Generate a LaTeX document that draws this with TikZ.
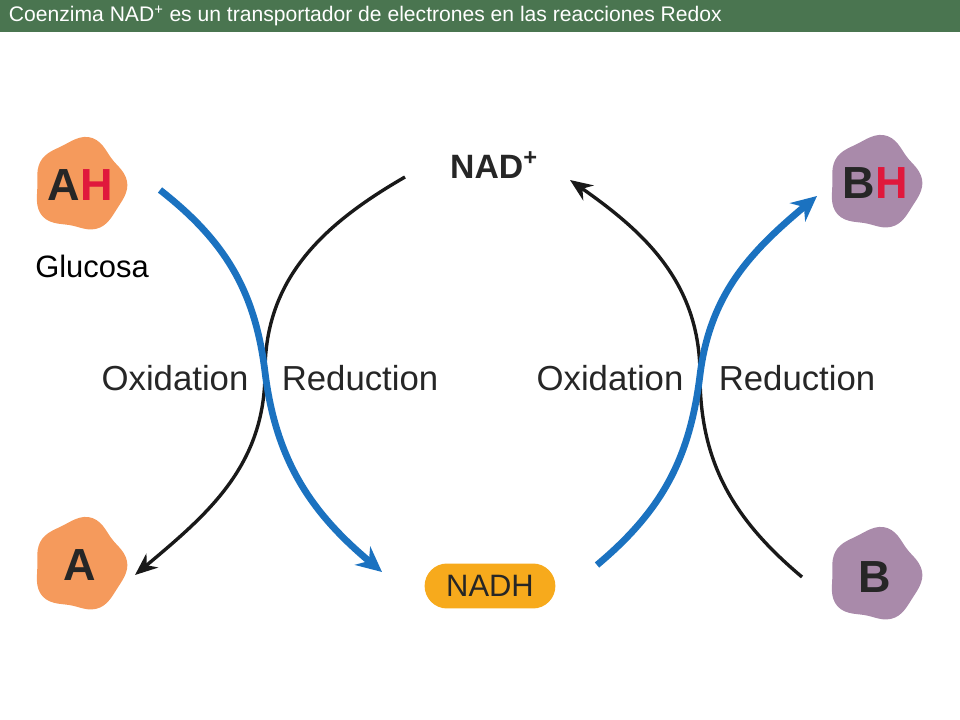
\documentclass[tikz,border=0pt]{standalone}
\usepackage{fontspec}
\setmainfont{Liberation Sans}
\usetikzlibrary{positioning,arrows.meta}
\definecolor{bargreen}{HTML}{4A7550}
\definecolor{orangeblob}{HTML}{F59A5C}
\definecolor{purpleblob}{HTML}{A98AAA}
\definecolor{nadhgold}{HTML}{F7AA1C}
\definecolor{arrowblue}{HTML}{1B72C0}
\definecolor{hred}{HTML}{E0183C}
\newcommand{\blobshape}[2]{%
  \fill[#2,shift={#1}] plot[domain=0:360,samples=73,smooth cycle]
    ({(45+2.5*cos(5*\x+20)+1.5*sin(3*\x))*cos(\x)},{(45+2.5*cos(5*\x+20)+1.5*sin(3*\x))*sin(\x)});}
\begin{document}
\begin{tikzpicture}[x=0.025cm,y=-0.025cm,
    molecule/.style={font=\fontsize{32}{32}\selectfont\bfseries, text=black!85},
    steplabel/.style={font=\fontsize{24.7}{25}\selectfont, text=black!85},
    blackflow/.style={line width=2.4pt, black!90, -{Stealth[length=16pt,width=13pt]}},
    blueflow/.style={line width=4.8pt, arrowblue, -{Stealth[length=18pt,width=17pt]}}]
      % frame and title bar
      \useasboundingbox (0,0) rectangle (960,720);
      \fill[bargreen] (0,0) rectangle (960,32);
      \node[anchor=west, text=white, font=\fontsize{15}{15}\selectfont] (title) at (4,16)
        {Coenzima NAD\textsuperscript{+} es un transportador de electrones en las reacciones Redox};

      % the molecules
      \blobshape{(80,185)}{orangeblob}
      \blobshape{(80,565)}{orangeblob}
      \blobshape{(875,183)}{purpleblob}
      \blobshape{(875,575)}{purpleblob}
      \node[molecule] (AH) at (80,185) {A\textcolor{hred}{H}};
      \node[molecule] (A) at (80,565) {A};
      \node[molecule] (BH) at (875,183) {B\textcolor{hred}{H}};
      \node[molecule] (B) at (875,577) {B};
      \node[font=\fontsize{22}{22}\selectfont] (glucosa) at (92,266) {Glucosa};
      \node[font=\fontsize{24}{24}\selectfont\bfseries, text=black!85] (nad) at (494,165) {NAD\textsuperscript{+}};
      \node[fill=nadhgold, rounded corners=16pt, minimum width=93pt, minimum height=32pt,
            font=\fontsize{22}{22}\selectfont, text=black!85] (nadh) at (490,586) {NADH};

      % labels
      \node[steplabel] (ox1) at (175,378) {Oxidation};
      \node[steplabel] (red1) at (360,378) {Reduction};
      \node[steplabel] (ox2) at (610,378) {Oxidation};
      \node[steplabel] (red2) at (797,378) {Reduction};

      % crossing points and arrow ends
      \coordinate (xl) at (265,372);
      \coordinate (xr) at (700,375);
      \coordinate (nadin) at (405,177);
      \coordinate (nadout) at (570,180);
      \coordinate (ahout) at (160,190);
      \coordinate (aend) at (135,575);
      \coordinate (nadhin) at (382,572);
      \coordinate (nadhout) at (597,565);
      \coordinate (bstart) at (802,577);
      \coordinate (bhend) at (817,196);

      % black arrows
      \draw[blackflow] (nadin) to[out=-150,in=90] (xl) to[out=-90,in=40] (aend);
      \draw[blackflow] (bstart) to[out=140,in=-90] (xr) to[out=90,in=-35] (nadout);

      % blue arrows
      \draw[blueflow] (ahout) to[out=-38,in=97] (xl) to[out=-83,in=140] (nadhin);
      \draw[blueflow] (nadhout) to[out=40,in=-97] (xr) to[out=83,in=-140] (bhend);
\end{tikzpicture}
\end{document}
